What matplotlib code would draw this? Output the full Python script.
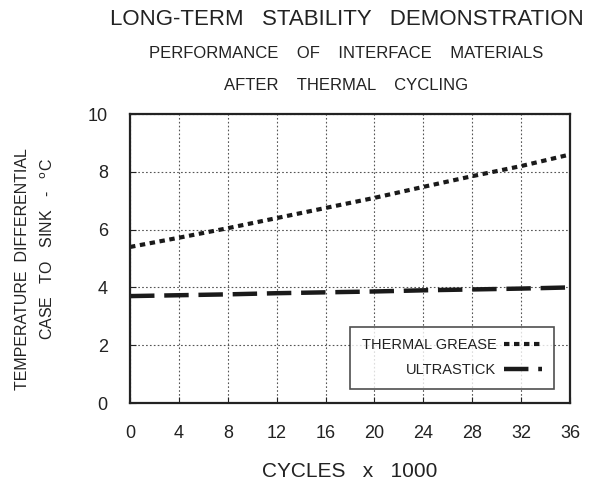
import matplotlib.pyplot as plt

plt.rcParams['font.family'] = ['Liberation Sans', 'DejaVu Sans']

# values
cycles = [0, 4, 8, 12, 16, 20, 24, 28, 32, 36]
grease = [5.4, 5.72, 6.05, 6.4, 6.75, 7.1, 7.48, 7.85, 8.2, 8.6]
ultrastick = [3.7, 3.73, 3.76, 3.8, 3.83, 3.86, 3.9, 3.93, 3.96, 4.0]
xticks = [0, 4, 8, 12, 16, 20, 24, 28, 32, 36]
yticks = [0, 2, 4, 6, 8, 10]

fig = plt.figure(figsize=(6, 4.8), dpi=100)
ax = fig.add_axes([0.2167, 0.1604, 0.7333, 0.602])

ax.plot(cycles, grease, color='#1a1a1a', lw=3, linestyle=(0, (1.3, 1.1)),
        label='THERMAL GREASE')
ax.plot(cycles, ultrastick, color='#1a1a1a', lw=3.2, linestyle=(0, (5.5, 2.2)),
        label='ULTRASTICK')

ax.set_xlim(0, 36)
ax.set_ylim(0, 10)
ax.set_xticks(xticks)
ax.set_yticks(yticks)
ax.tick_params(direction='in', length=4, labelsize=13, pad=16, colors='#222222')
ax.grid(True, linestyle=(0, (1.5, 2)), color='#555555', lw=0.8)
for s in ax.spines.values():
    s.set_linewidth(1.6)
    s.set_color('#222222')

ax.set_xlabel('CYCLES   x   1000', fontsize=15, labelpad=14, color='#222222')

fig.text(0.038, 0.44, 'TEMPERATURE  DIFFERENTIAL', rotation=90, ha='center',
         va='center', fontsize=11.5, color='#222222')
fig.text(0.08, 0.482, 'CASE   TO   SINK   -   $^{\\mathrm{o}}$C', rotation=90,
         ha='center', va='center', fontsize=11.5, color='#222222')

fig.text(0.5775, 0.96, 'LONG-TERM   STABILITY   DEMONSTRATION', ha='center',
         va='center', fontsize=16, color='#222222')
fig.text(0.5775, 0.889, 'PERFORMANCE    OF    INTERFACE    MATERIALS', ha='center',
         va='center', fontsize=12, color='#222222')
fig.text(0.5775, 0.821, 'AFTER    THERMAL    CYCLING', ha='center',
         va='center', fontsize=12, color='#222222')

leg = ax.legend(loc='lower right', bbox_to_anchor=(0.9636, 0.0484),
                borderaxespad=0, markerfirst=False, fontsize=10.5, frameon=True,
                fancybox=False, handlelength=2.6, handletextpad=0.55,
                borderpad=0.8, labelspacing=0.75)
leg.get_frame().set_edgecolor('#222222')
leg.get_frame().set_linewidth(1.2)
for t in leg.get_texts():
    t.set_ha('right')
    t.set_color('#222222')

fig.savefig('out.png', dpi=100)
